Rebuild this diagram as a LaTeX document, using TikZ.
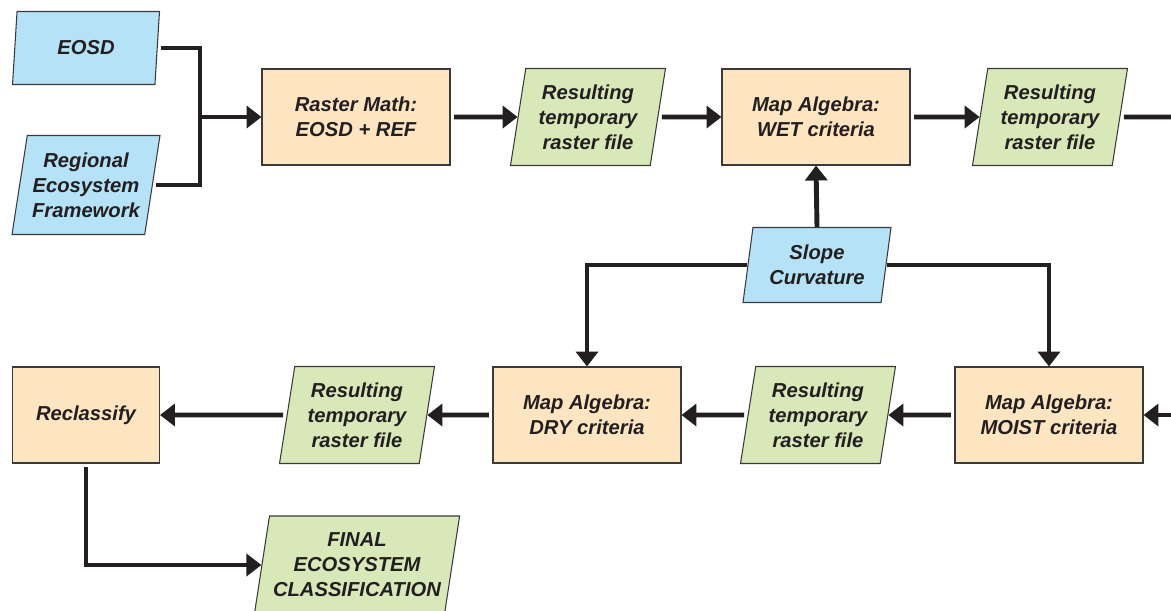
\documentclass[tikz,border=0pt]{standalone}
\usepackage{fontspec}
\setmainfont{Liberation Sans}
\usepackage{xcolor}
\usetikzlibrary{shapes.geometric, arrows.meta, positioning}
\definecolor{inblue}{HTML}{B5E2F7}
\definecolor{procorange}{HTML}{FDE5C2}
\definecolor{resgreen}{HTML}{D9E8B9}
\definecolor{boxline}{HTML}{3A3A3A}
\definecolor{inktext}{HTML}{231F20}
\newcommand{\flowfont}{\fontsize{11.5}{14.2}\selectfont\bfseries\itshape}

\begin{document}
\begin{tikzpicture}[
			x=0.02cm, y=-0.02cm,
			>={Triangle[length=8.5pt, width=12.5pt]},
			proc/.style={rectangle, draw=boxline, line width=0.6pt, fill=procorange, minimum width=3.76cm, minimum height=1.92cm, align=center, font=\flowfont, text=inktext, inner sep=2pt},
			data/.style={trapezium, trapezium left angle=78, trapezium right angle=102, trapezium stretches body, draw=boxline, line width=0.6pt, align=center, font=\flowfont, text=inktext, inner sep=2pt},
			input/.style={data, fill=inblue},
			result/.style={data, fill=resgreen, minimum width=3.1cm, minimum height=1.94cm},
			arrow/.style={->, line width=2.8pt, color=inktext, shorten <=2pt},
			link/.style={line width=2.8pt, color=inktext, shorten <=2pt}
			]
			\useasboundingbox (0,0) rectangle (1171,610);
			\clip (0,0) rectangle (1171,610);
			
			% --- Top row: inputs and WET step ---
			\node[input, minimum width=2.94cm, minimum height=1.46cm] (eosd) at (86, 48) {EOSD};
			\node[input, minimum width=2.96cm, minimum height=1.98cm] (regional) at (86, 185) {Regional\\Ecosystem\\Framework};
			\node[proc] (rastermath) at (356, 117) {Raster Math:\\EOSD + REF};
			\node[result] (tempa) at (588, 117) {Resulting\\temporary\\raster file};
			\node[proc] (wet) at (816, 117) {Map Algebra:\\WET criteria};
			\node[result] (tempb) at (1050, 117) {Resulting\\temporary\\raster file};
			
			% --- Terrain input ---
			\node[input, minimum width=2.96cm, minimum height=1.5cm] (slope) at (817, 265) {Slope\\Curvature};
			
			% --- Bottom row: MOIST, DRY and reclassification ---
			\node[proc] (moist) at (1049, 415) {Map Algebra:\\MOIST criteria};
			\node[result] (tempc) at (818, 415) {Resulting\\temporary\\raster file};
			\node[proc] (dry) at (587, 415) {Map Algebra:\\DRY criteria};
			\node[result] (tempd) at (357, 415) {Resulting\\temporary\\raster file};
			\node[proc, minimum width=2.94cm] (reclassify) at (86, 415) {Reclassify};
			\node[result, minimum width=4.02cm, minimum height=1.96cm] (final) at (357, 565) {FINAL\\ECOSYSTEM\\CLASSIFICATION};
			
			% --- Helper points ---
			\coordinate (join) at (200, 117);
			\coordinate (outright) at (1185, 117);
			\coordinate (inright) at (1185, 415);
			
			% --- Forward routing, top row ---
			\draw[link] (eosd.east) -| (join);
			\draw[link] (regional.east) -| (join);
			\draw[arrow, shorten <=0pt] (join) -- (rastermath);
			\draw[arrow] (rastermath) -- (tempa);
			\draw[arrow] (tempa) -- (wet);
			\draw[arrow] (wet) -- (tempb);
			\draw[link] (tempb) -- (outright);
			
			% --- Slope / curvature feeds (touching the input box) ---
			\draw[arrow, shorten <=0pt] (slope.north) -- (wet.south);
			\draw[arrow, shorten <=0pt] (slope.west) -| (dry.north);
			\draw[arrow, shorten <=0pt] (slope.east) -| (moist.north);
			
			% --- Backward routing, bottom row ---
			\draw[arrow, shorten <=0pt] (inright) -- (moist.east);
			\draw[arrow] (moist) -- (tempc);
			\draw[arrow] (tempc) -- (dry);
			\draw[arrow] (dry) -- (tempd);
			\draw[arrow] (tempd) -- (reclassify);
			\draw[arrow] (reclassify.south) |- (final.west);
			
			\end{tikzpicture}
\end{document}
